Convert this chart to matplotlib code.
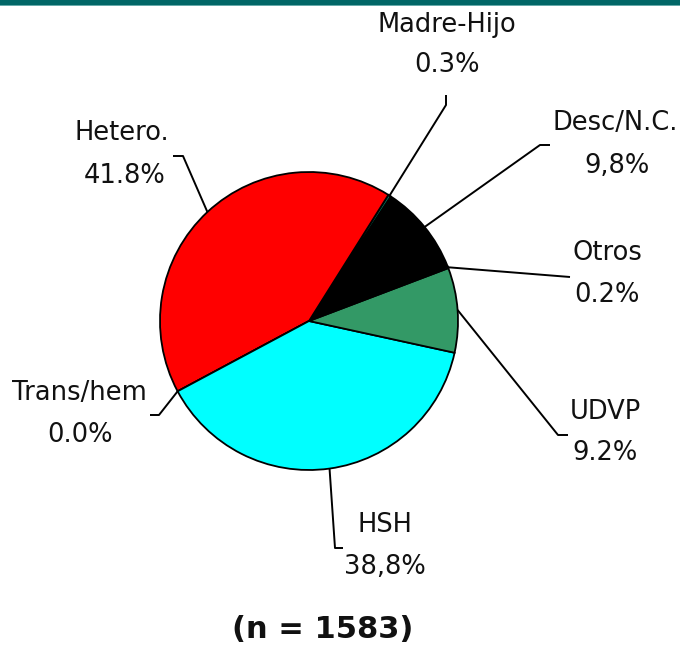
import matplotlib.pyplot as plt
import numpy as np

# Share of cases by transmission category
categories = ["Desc/N.C.", "Madre-Hijo", "Hetero.", "Trans/hem", "HSH", "UDVP", "Otros"]
values = [9.8, 0.3, 41.8, 0.0, 38.8, 9.2, 0.2]
pct_labels = ["9,8%", "0.3%", "41.8%", "0.0%", "38,8%", "9.2%", "0.2%"]
colors = ["#000000", "#008066", "#FF0000", "#FFFF00", "#00FFFF", "#339966", "#0066CC"]
title = "(n = 1583)"

W, H = 680, 646
fig = plt.figure(figsize=(W / 100, H / 100), dpi=100)
ax = fig.add_axes([0, 0, 1, 1])

def py(y):
    # pixel row (from top) -> data y
    return H - y

cx, cy, r = 309, 321, 149
wedges, _ = ax.pie(values, colors=colors, startangle=21.5, counterclock=True,
                   center=(cx, py(cy)), radius=r, frame=True,
                   wedgeprops=dict(edgecolor="black", linewidth=1.3))
ax.set_xlim(0, W)
ax.set_ylim(0, H)
ax.set_aspect("equal")
ax.axis("off")

# label layout: name centre, percent centre, leader elbow, leader end (pixels)
name_pos = [(615, 123), (447, 25), (122, 133), (79, 393), (385, 525), (605, 412), (607, 253)]
pct_pos = [(617, 166), (447, 65), (125, 176), (80, 435), (385, 567), (605, 453), (607, 295)]
elbows = [(540, 145), (446, 105), (183, 156), (159, 415), (335, 548), (558, 435), (570, 277)]
ends = [(550, 145), (446, 95), (173, 156), (150, 415), (343, 548), (568, 435), (570, 277)]

for w, name, pct, npos, ppos, el, en in zip(wedges, categories, pct_labels,
                                            name_pos, pct_pos, elbows, ends):
    ang = np.deg2rad((w.theta1 + w.theta2) / 2)
    x0 = cx + r * np.cos(ang)
    y0 = py(cy) + r * np.sin(ang)
    ax.plot([x0, el[0], en[0]], [y0, py(el[1]), py(en[1])],
            color="black", lw=1.4, solid_capstyle="butt")
    ax.text(npos[0], py(npos[1]), name, ha="center", va="center",
            fontsize=18.5, color="#111111")
    ax.text(ppos[0], py(ppos[1]), pct, ha="center", va="center",
            fontsize=18.5, color="#111111")

ax.text(323, py(630), title, ha="center", va="center",
        fontsize=22, fontweight="bold", color="#111111")

# dark band across the top
ax.axhspan(py(5), H, color="#006666", lw=0)
ax.axhspan(py(6), py(5), color="#66AAAA", lw=0)

fig.savefig("out.png", dpi=100)
